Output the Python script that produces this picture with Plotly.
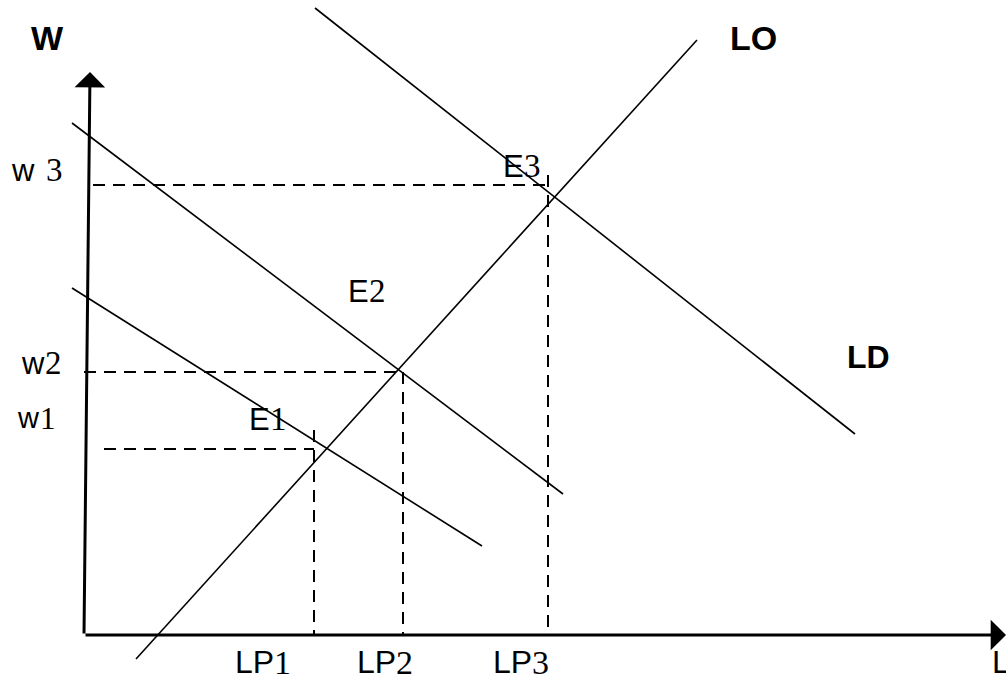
import plotly.graph_objects as go

# ---- data (L = labour quantity, W = wage), diagram units ----
LO_L = [52, 613]
LO_W = [-24, 595]
LD1_L = [-12, 398]
LD1_W = [347, 89]
LD2_L = [-12, 479]
LD2_W = [512, 141]
LD3_L = [231, 771]
LD3_W = [627, 201]

LP = [230, 319, 464]          # equilibrium quantities LP1..LP3
WAGE = [186, 263, 450]        # equilibrium wages w1..w3
DASH_START_L = [20, 0, 9]     # where the horizontal dashed guides start
DASH_TOP_W = [205, 263, 460]  # where the vertical dashed guides start

L_AXIS_END = 922
W_AXIS_TIP = [6, 563]

SANS = "Liberation Sans"
SERIF = "Liberation Serif"

fig = go.Figure()

line_style = dict(color="black", width=1.6)
for xs, ys in [(LO_L, LO_W), (LD1_L, LD1_W), (LD2_L, LD2_W), (LD3_L, LD3_W)]:
    fig.add_trace(go.Scatter(x=xs, y=ys, mode="lines", line=line_style,
                             hoverinfo="skip", showlegend=False))

dash_style = dict(color="black", width=2, dash="12px,8px")
for i in range(3):
    fig.add_trace(go.Scatter(x=[DASH_START_L[i], LP[i]], y=[WAGE[i], WAGE[i]],
                             mode="lines", line=dash_style,
                             hoverinfo="skip", showlegend=False))
    fig.add_trace(go.Scatter(x=[LP[i], LP[i]], y=[DASH_TOP_W[i], 0],
                             mode="lines", line=dash_style,
                             hoverinfo="skip", showlegend=False))

# axes with arrowheads
fig.add_annotation(x=L_AXIS_END, y=0, ax=0, ay=0, xref="x", yref="y",
                   axref="x", ayref="y", showarrow=True, arrowhead=1,
                   arrowwidth=3, arrowsize=1.7, arrowcolor="black", text="")
fig.add_annotation(x=W_AXIS_TIP[0], y=W_AXIS_TIP[1], ax=0, ay=0, xref="x", yref="y",
                   axref="x", ayref="y", showarrow=True, arrowhead=1,
                   arrowwidth=3, arrowsize=1.7, arrowcolor="black", text="")

# plain labels (bold sans)
plain = [
    ("<b>W</b>", -37, 597, 34, "center"),
    ("<b>LO</b>", 669, 597, 34, "center"),
    ("<b>LD</b>", 784, 278, 32, "center"),
    ("L", 908, -27, 32, "left"),
]
for text, x, y, size, anchor in plain:
    fig.add_annotation(x=x, y=y, xref="x", yref="y", text=text, showarrow=False,
                       xanchor=anchor, yanchor="middle", borderpad=0, borderwidth=0,
                       font=dict(family=SANS, size=size, color="black"))

# mixed labels: sans letters + serif digit (split at x)
mixed = [
    ("w", "3", -49, -38, 465, 31),
    ("w", "2", -39, -39, 272, 31),
    ("w", "1", -44, -44, 217, 29),
    ("E", "1", 186, 186, 216, 31),
    ("E", "2", 285, 285, 344, 31),
    ("E", "3", 440, 440, 469, 31),
    ("LP", "1", 190, 190, -27, 32),
    ("LP", "2", 312, 312, -27, 32),
    ("LP", "3", 448, 448, -27, 32),
]
for prefix, digit, xl, xr, y, size in mixed:
    fig.add_annotation(x=xl, y=y, xref="x", yref="y", text=prefix, showarrow=False,
                       xanchor="right", yanchor="middle", borderpad=0, borderwidth=0,
                       font=dict(family=SANS, size=size, color="black"))
    fig.add_annotation(x=xr, y=y, xref="x", yref="y", text=digit, showarrow=False,
                       xanchor="left", yanchor="middle", borderpad=0, borderwidth=0,
                       font=dict(family=SERIF, size=size + 2, color="black"))

fig.update_layout(
    width=1006, height=682, autosize=False,
    margin=dict(l=0, r=0, t=0, b=0),
    paper_bgcolor="white", plot_bgcolor="white",
    xaxis=dict(range=[-84, 922], visible=False, fixedrange=True),
    yaxis=dict(range=[-47, 635], visible=False, fixedrange=True),
    showlegend=False,
)

fig.write_html("out.html", config={"displayModeBar": False},
               post_script="document.body.style.margin='0';document.body.style.overflow='hidden';")
